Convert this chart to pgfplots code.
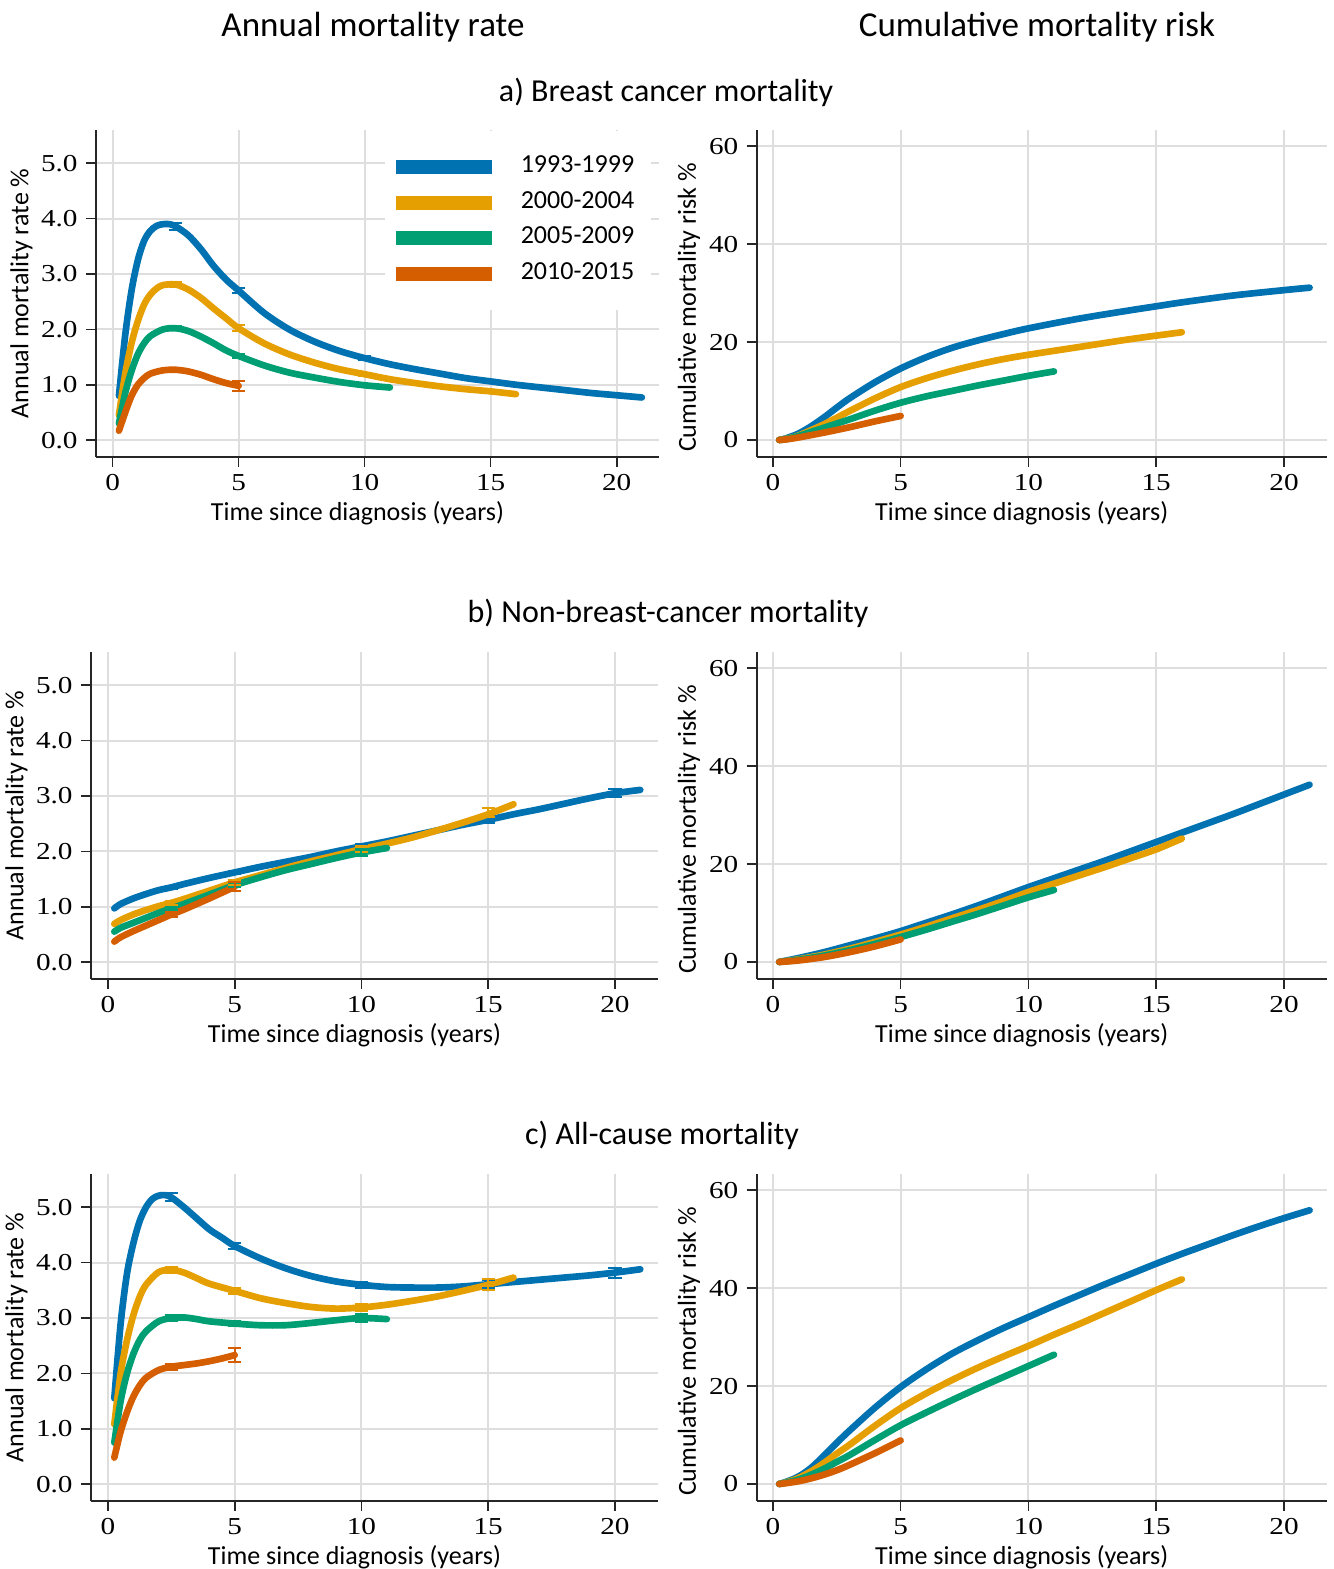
\documentclass[border=0pt]{standalone}
\usepackage{pgfplots}
\pgfplotsset{compat=1.18}
\usepackage{fontspec}
\setmainfont{Carlito}
\newfontfamily\tickfont[FakeStretch=1.2]{Liberation Serif}

\definecolor{c1}{HTML}{0072B2}
\definecolor{c2}{HTML}{E69F00}
\definecolor{c3}{HTML}{009E73}
\definecolor{c4}{HTML}{D55E00}

\newcommand\labfont{\fontsize{7.8}{9}\selectfont}
\newcommand\tkfont{\tickfont\fontsize{7.3}{8}\selectfont}

\pgfplotsset{
  panel/.style={
    scale only axis,
    axis lines=left,
    axis line style={-, line width=0.5pt, black!85},
    tick align=outside,
    tick style={line width=0.5pt, black!85},
    major tick length=3pt,
    xtick={0,5,10,15,20},
    xticklabels={0,5,10,15,20},
    grid=major,
    major grid style={line width=0.6pt, black!13},
    ticklabel style={font=\tkfont},
    label style={font=\labfont},
    xticklabel shift=-1.3pt,
    yticklabel shift=-1pt,
    xlabel shift=-3.6pt,
    xlabel style={xshift=-6pt},
    xlabel={Time since diagnosis (years)},
    every axis plot/.append style={line width=2pt, line cap=round, line join=round},
  },
  ratepanel/.style={panel, width=168.9pt, height=98pt,
    xmin=-0.66, xmax=21.68, ymin=-0.30, ymax=5.6,
    ytick={0,1,2,3,4,5}, yticklabels={0.0,1.0,2.0,3.0,4.0,5.0},
    ylabel shift=-4.3pt,
    ylabel={Annual mortality rate \%}},
  cumpanel/.style={panel, width=171pt, height=98pt,
    xmin=-0.63, xmax=21.67, ymin=-3.42, ymax=63.3,
    ytick={0,20,40,60}, yticklabels={0,20,40,60},
    ylabel shift=-4.2pt,
    ylabel style={at={(ticklabel cs:0.457)}},
    ylabel={Cumulative mortality risk \%}},
  ebar/.style={forget plot, draw=none, mark=none,
    error bars/.cd, y dir=both, y explicit,
    error bar style={line width=0.6pt, draw=#1, solid},
    error mark options={rotate=90, mark size=2pt, line width=0.6pt, draw=#1, solid}},
}

\begin{document}
\begin{tikzpicture}
\useasboundingbox (0,0) rectangle (399.9pt,-470.7pt);

% column and row headings
\node[font=\fontsize{10.5}{12}\selectfont] at (373*0.3pt,-27*0.3pt) {Annual mortality rate};
\node[font=\fontsize{10.5}{12}\selectfont] at (1037*0.3pt,-27*0.3pt) {Cumulative mortality risk};
\node[font=\fontsize{9.6}{11}\selectfont] at (666*0.3pt,-92*0.3pt) {a) Breast cancer mortality};
\node[font=\fontsize{9.6}{11}\selectfont] at (668*0.3pt,-613*0.3pt) {b) Non-breast-cancer mortality};
\node[font=\fontsize{9.6}{11}\selectfont] at (662*0.3pt,-1135*0.3pt) {c) All-cause mortality};

% ---------- a) breast cancer, annual rate ----------
\begin{axis}[ratepanel, at={(96*0.3pt,-456.7*0.3pt)}, anchor=south west,
  legend style={at={(axis cs:10.8,5.6)}, anchor=north west, draw=none, fill=white,
    font=\labfont, row sep=0.1pt, column sep=2.4pt, inner xsep=1pt, inner ysep=5.6pt,
    nodes={inner xsep=4pt}},
  legend cell align=left,
  legend image code/.code={\draw[line width=4.2pt, line cap=butt] (0pt,0pt) -- (29pt,0pt);}]
\addplot[c1, smooth] coordinates {(0.25,0.8)(0.5,1.9)(0.75,2.7)(1.0,3.25)(1.25,3.6)(1.5,3.78)(1.75,3.87)(2.0,3.9)(2.25,3.9)(2.5,3.86)(3,3.7)(3.5,3.45)(4,3.15)(4.5,2.9)(5,2.7)(6,2.3)(7,2.0)(8,1.78)(9,1.61)(10,1.48)(11,1.37)(12,1.28)(13,1.2)(14,1.12)(15,1.06)(16,1.0)(17,0.95)(18,0.9)(19,0.85)(20,0.81)(21,0.77)};
\addlegendentry{1993-1999}
\addplot[c2, smooth] coordinates {(0.25,0.45)(0.5,1.2)(0.75,1.75)(1.0,2.15)(1.25,2.45)(1.5,2.63)(1.75,2.74)(2.0,2.8)(2.5,2.81)(3,2.72)(3.5,2.57)(4,2.38)(4.5,2.2)(5,2.02)(6,1.75)(7,1.55)(8,1.4)(9,1.28)(10,1.19)(11,1.1)(12,1.03)(13,0.97)(14,0.92)(15,0.88)(16,0.83)};
\addlegendentry{2000-2004}
\addplot[c3, smooth] coordinates {(0.25,0.3)(0.5,0.85)(0.75,1.25)(1,1.55)(1.25,1.75)(1.5,1.88)(2,2.0)(2.5,2.02)(3,1.97)(3.5,1.87)(4,1.75)(4.5,1.62)(5,1.52)(6,1.35)(7,1.22)(8,1.13)(9,1.05)(10,0.99)(11,0.95)};
\addlegendentry{2005-2009}
\addplot[c4, smooth] coordinates {(0.25,0.17)(0.5,0.5)(0.75,0.8)(1.0,1.0)(1.25,1.12)(1.5,1.2)(2,1.26)(2.5,1.27)(3,1.24)(3.5,1.18)(4,1.1)(4.5,1.03)(5,0.98)};
\addlegendentry{2010-2015}
\addplot[ebar=c1] coordinates {(2.5,3.86) +- (0,0.06) (5,2.7) +- (0,0.05) (10,1.48) +- (0,0.03) (15,1.06) +- (0,0.03) (20,0.81) +- (0,0.03)};
\addplot[ebar=c2] coordinates {(2.5,2.81) +- (0,0.05) (5,2.02) +- (0,0.05) (10,1.19) +- (0,0.03) (15,0.88) +- (0,0.03)};
\addplot[ebar=c3] coordinates {(2.5,2.02) +- (0,0.04) (5,1.52) +- (0,0.04) (10,0.99) +- (0,0.03)};
\addplot[ebar=c4] coordinates {(2.5,1.27) +- (0,0.03) (5,0.98) +- (0,0.09)};
\end{axis}

% ---------- a) breast cancer, cumulative risk ----------
\begin{axis}[cumpanel, at={(756.7*0.3pt,-456.7*0.3pt)}, anchor=south west]
\addplot[c1, smooth] coordinates {(0.25,0)(0.5,0.3)(1,1.3)(1.5,2.8)(2,4.6)(2.5,6.6)(3,8.5)(4,11.8)(5,14.6)(6,16.9)(7,18.8)(8,20.3)(9,21.6)(10,22.8)(12,24.8)(14,26.5)(15,27.3)(16,28.1)(18,29.5)(20,30.6)(21,31.1)};
\addplot[c2, smooth] coordinates {(0.25,0)(0.5,0.2)(1,0.9)(2,3.2)(3,5.9)(4,8.5)(5,10.8)(6,12.6)(7,14.1)(8,15.4)(9,16.5)(10,17.4)(12,19.0)(14,20.6)(16,22.0)};
\addplot[c3, smooth] coordinates {(0.25,0)(0.5,0.15)(1,0.8)(2,2.5)(3,4.2)(4,6.0)(5,7.6)(6,8.9)(7,10.0)(8,11.1)(9,12.1)(10,13.1)(11,14.0)};
\addplot[c4, smooth] coordinates {(0.25,0)(0.5,0.1)(1,0.5)(2,1.5)(3,2.6)(4,3.8)(5,4.9)};
\end{axis}

% ---------- b) non-breast-cancer, annual rate ----------
\begin{axis}[ratepanel, at={(91*0.3pt,-978.7*0.3pt)}, anchor=south west,
  width=170.1pt, xmin=-0.67, xmax=21.7]
\addplot[c1, smooth] coordinates {(0.25,0.97)(0.5,1.05)(1,1.15)(1.5,1.23)(2,1.3)(2.5,1.35)(3,1.41)(4,1.52)(5,1.62)(6,1.72)(7,1.81)(8,1.9)(9,2.0)(10,2.09)(11,2.18)(12,2.28)(13,2.38)(14,2.48)(15,2.57)(16,2.67)(17,2.76)(18,2.86)(19,2.96)(20,3.05)(21,3.11)};
\addplot[c2, smooth] coordinates {(0.25,0.69)(0.5,0.76)(1,0.86)(1.5,0.94)(2,1.01)(2.5,1.07)(3,1.14)(4,1.29)(5,1.44)(6,1.57)(7,1.7)(8,1.82)(9,1.93)(10,2.04)(11,2.14)(12,2.25)(13,2.38)(14,2.52)(15,2.67)(16,2.85)};
\addplot[c3, smooth] coordinates {(0.25,0.55)(0.5,0.62)(1,0.71)(1.5,0.8)(2,0.89)(2.5,0.97)(3,1.05)(4,1.22)(5,1.39)(6,1.53)(7,1.66)(8,1.77)(9,1.88)(10,1.98)(11,2.06)};
\addplot[c4, smooth] coordinates {(0.25,0.37)(0.5,0.45)(1,0.56)(1.5,0.66)(2,0.76)(2.5,0.86)(3,0.95)(4,1.15)(5,1.36)};
\addplot[ebar=c1] coordinates {(2.5,1.35) +- (0,0.03) (5,1.62) +- (0,0.03) (10,2.09) +- (0,0.04) (15,2.57) +- (0,0.05) (20,3.05) +- (0,0.07)};
\addplot[ebar=c2] coordinates {(2.5,1.07) +- (0,0.03) (5,1.44) +- (0,0.04) (10,2.04) +- (0,0.05) (15,2.7) +- (0,0.08)};
\addplot[ebar=c3] coordinates {(2.5,0.97) +- (0,0.03) (5,1.39) +- (0,0.04) (10,1.98) +- (0,0.06)};
\addplot[ebar=c4] coordinates {(2.5,0.86) +- (0,0.04) (5,1.36) +- (0,0.08)};
\end{axis}

% ---------- b) non-breast-cancer, cumulative risk ----------
\begin{axis}[cumpanel, at={(756.7*0.3pt,-978.7*0.3pt)}, anchor=south west]
\addplot[c1, smooth] coordinates {(0.25,0)(1,0.8)(2,2.0)(3,3.4)(4,4.8)(5,6.3)(6,8.0)(7,9.7)(8,11.5)(9,13.4)(10,15.3)(11,17.1)(12,18.9)(13,20.7)(14,22.6)(15,24.5)(16,26.4)(17,28.3)(18,30.2)(19,32.2)(20,34.2)(21,36.2)};
\addplot[c2, smooth] coordinates {(0.25,0)(1,0.55)(2,1.5)(3,2.7)(4,4.1)(5,5.6)(6,7.2)(7,8.9)(8,10.6)(9,12.4)(10,14.3)(11,16.0)(12,17.7)(13,19.4)(14,21.2)(15,23.0)(16,25.2)};
\addplot[c3, smooth] coordinates {(0.25,0)(1,0.45)(2,1.3)(3,2.4)(4,3.7)(5,5.1)(6,6.6)(7,8.2)(8,9.8)(9,11.5)(10,13.2)(11,14.7)};
\addplot[c4, smooth] coordinates {(0.25,0)(1,0.3)(2,1.0)(3,2.0)(4,3.2)(5,4.6)};
\end{axis}

% ---------- c) all-cause, annual rate ----------
\begin{axis}[ratepanel, at={(91*0.3pt,-1500.7*0.3pt)}, anchor=south west,
  width=170.1pt, xmin=-0.67, xmax=21.7]
\addplot[c1, smooth] coordinates {(0.25,1.55)(0.5,2.9)(0.75,3.8)(1.0,4.35)(1.25,4.75)(1.5,5.0)(1.75,5.15)(2.0,5.21)(2.25,5.22)(2.5,5.18)(3,5.0)(3.5,4.8)(4,4.6)(4.5,4.45)(5,4.3)(6,4.08)(7,3.9)(8,3.76)(9,3.66)(10,3.6)(11,3.56)(12,3.55)(13,3.55)(14,3.57)(15,3.61)(16,3.65)(17,3.69)(18,3.73)(19,3.77)(20,3.82)(21,3.88)};
\addplot[c2, smooth] coordinates {(0.25,1.08)(0.5,2.0)(0.75,2.6)(1.0,3.05)(1.25,3.38)(1.5,3.6)(2.0,3.83)(2.5,3.87)(3,3.82)(3.5,3.72)(4,3.62)(5,3.49)(6,3.36)(7,3.27)(8,3.2)(9,3.17)(10,3.19)(11,3.24)(12,3.31)(13,3.39)(14,3.49)(15,3.6)(16,3.73)};
\addplot[c3, smooth] coordinates {(0.25,0.75)(0.5,1.5)(0.75,2.0)(1.0,2.35)(1.25,2.6)(1.5,2.76)(2,2.94)(2.5,3.0)(3,3.01)(3.5,2.98)(4,2.94)(5,2.9)(6,2.87)(7,2.87)(8,2.91)(9,2.96)(10,3.0)(11,2.98)};
\addplot[c4, smooth] coordinates {(0.25,0.48)(0.5,0.95)(0.75,1.3)(1.0,1.58)(1.25,1.78)(1.5,1.92)(2,2.06)(2.5,2.12)(3,2.15)(3.5,2.18)(4,2.22)(4.5,2.27)(5,2.33)};
\addplot[ebar=c1] coordinates {(2.5,5.18) +- (0,0.07) (5,4.3) +- (0,0.06) (10,3.6) +- (0,0.05) (15,3.61) +- (0,0.07) (20,3.82) +- (0,0.09)};
\addplot[ebar=c2] coordinates {(2.5,3.87) +- (0,0.06) (5,3.49) +- (0,0.05) (10,3.19) +- (0,0.06) (15,3.6) +- (0,0.1)};
\addplot[ebar=c3] coordinates {(2.5,3.0) +- (0,0.05) (5,2.9) +- (0,0.04) (10,3.0) +- (0,0.07)};
\addplot[ebar=c4] coordinates {(2.5,2.12) +- (0,0.05) (5,2.33) +- (0,0.13)};
\end{axis}

% ---------- c) all-cause, cumulative risk ----------
\begin{axis}[cumpanel, at={(756.7*0.3pt,-1500.7*0.3pt)}, anchor=south west]
\addplot[c1, smooth] coordinates {(0.25,0)(0.5,0.4)(1,1.5)(1.5,3.3)(2,5.8)(2.5,8.4)(3,10.9)(4,15.6)(5,19.8)(6,23.4)(7,26.6)(8,29.3)(9,31.8)(10,34.1)(11,36.4)(12,38.6)(13,40.8)(14,42.9)(15,45.0)(16,47.0)(17,48.9)(18,50.8)(19,52.6)(20,54.3)(21,55.9)};
\addplot[c2, smooth] coordinates {(0.25,0)(0.5,0.3)(1,1.2)(1.5,2.6)(2,4.3)(2.5,6.2)(3,8.0)(4,11.9)(5,15.5)(6,18.5)(7,21.2)(8,23.7)(9,26.0)(10,28.2)(11,30.5)(12,32.7)(13,35.0)(14,37.3)(15,39.6)(16,41.8)};
\addplot[c3, smooth] coordinates {(0.25,0)(0.5,0.25)(1,0.9)(1.5,1.9)(2,3.1)(2.5,4.5)(3,5.9)(4,9.0)(5,12.0)(6,14.6)(7,17.1)(8,19.5)(9,21.8)(10,24.1)(11,26.4)};
\addplot[c4, smooth] coordinates {(0.25,0)(0.5,0.15)(1,0.55)(1.5,1.15)(2,1.9)(2.5,2.8)(3,3.9)(4,6.3)(5,8.9)};
\end{axis}
\end{tikzpicture}
\end{document}
